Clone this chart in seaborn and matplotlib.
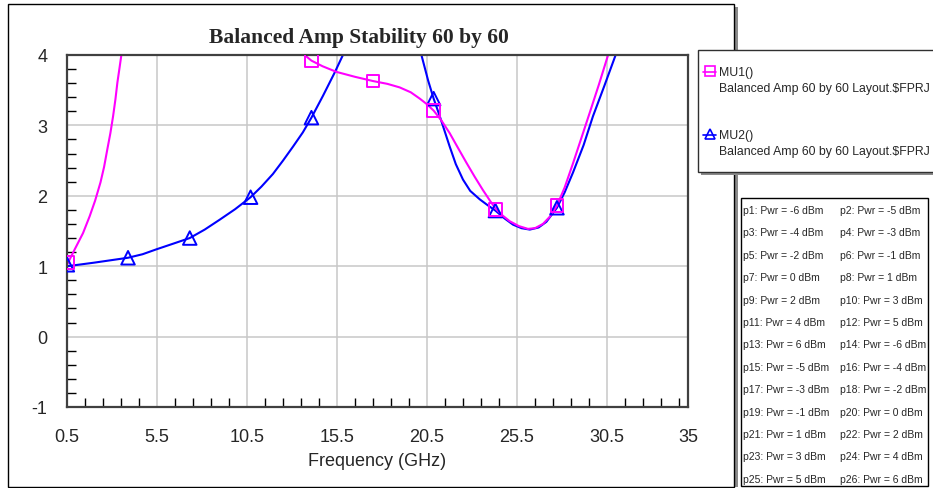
import numpy as np
import pandas as pd
import matplotlib
matplotlib.use("Agg")
import matplotlib.pyplot as plt
from matplotlib.patches import Rectangle
from matplotlib.lines import Line2D
from matplotlib.ticker import MultipleLocator, FixedLocator
import seaborn as sns

# ---------------- data ----------------
# MU1 curve: part before it leaves the top, and part after it returns
mu1_low_freq = [0.52, 0.93, 1.39, 1.76, 2.06, 2.36, 2.56, 2.74, 2.91, 3.06, 3.19, 3.30, 3.42, 3.52]
mu1_low_val = [1.03, 1.24, 1.47, 1.71, 1.93, 2.19, 2.41, 2.66, 2.89, 3.13, 3.37, 3.61, 3.82, 4.00]
mu1_high_freq = [13.70, 14.08, 14.70, 15.47, 16.50, 17.50, 18.30, 18.98, 19.60,
                 20.10, 20.50, 20.87, 21.30, 21.76, 22.20, 22.69, 23.15, 23.61,
                 24.00, 24.30, 24.70, 25.09, 25.60, 26.11, 26.50, 26.94, 27.35,
                 27.72, 28.15, 28.61, 29.05, 29.54, 30.05, 30.56]
mu1_high_val = [4.00, 3.92, 3.84, 3.76, 3.69, 3.63, 3.59, 3.54, 3.47,
                3.38, 3.30, 3.21, 3.07, 2.89, 2.69, 2.47, 2.27, 2.08,
                1.93, 1.82, 1.72, 1.64, 1.57, 1.53, 1.54, 1.60, 1.71,
                1.86, 2.12, 2.46, 2.80, 3.18, 3.58, 4.00]

# MU2 curve
mu2_low_freq = [0.52, 2.00, 3.89, 4.70, 5.47, 6.40, 7.32, 8.15, 8.98, 9.84, 10.70,
                11.30, 11.94, 12.50, 13.06, 13.60, 14.08, 14.72, 15.37, 15.83]
mu2_low_val = [1.00, 1.05, 1.12, 1.17, 1.24, 1.32, 1.40, 1.52, 1.66, 1.81, 1.98,
               2.13, 2.31, 2.50, 2.70, 2.90, 3.11, 3.42, 3.75, 4.00]
mu2_high_freq = [20.19, 20.56, 20.87, 21.21, 21.76, 22.10, 22.50, 22.90, 23.43,
                 23.85, 24.30, 24.80, 25.28, 25.75, 26.21, 26.70, 27.13, 27.72,
                 28.15, 28.61, 29.20, 29.72, 30.35, 30.98]
mu2_high_val = [4.00, 3.64, 3.38, 3.13, 2.70, 2.45, 2.23, 2.07, 1.95,
                1.87, 1.79, 1.68, 1.59, 1.54, 1.52, 1.55, 1.63, 1.83,
                2.05, 2.33, 2.72, 3.13, 3.56, 4.00]

# marker points
mu1_mark_freq = [0.56, 14.08, 17.50, 20.87, 24.30, 27.72]
mu1_mark_val = [1.05, 3.92, 3.63, 3.21, 1.81, 1.86]
mu2_mark_freq = [0.52, 3.89, 7.32, 10.70, 14.08, 20.87, 24.30, 27.72]
mu2_mark_val = [1.02, 1.12, 1.40, 1.98, 3.11, 3.38, 1.79, 1.83]

x_ticks = [0.5, 5.5, 10.5, 15.5, 20.5, 25.5, 30.5, 35]
x_tick_labels = ["0.5", "5.5", "10.5", "15.5", "20.5", "25.5", "30.5", "35"]
y_ticks = [-1, 0, 1, 2, 3, 4]
y_tick_labels = ["-1", "0", "1", "2", "3", "4"]

title = "Balanced Amp Stability 60 by 60"
x_label = "Frequency (GHz)"
legend_names = ["MU1()", "MU2()"]
legend_source = "Balanced Amp 60 by 60 Layout.\\$FPRJ"
pwr_values = [-6, -5, -4, -3, -2, -1, 0, 1, 2, 3, 4, 5, 6,
              -6, -5, -4, -3, -2, -1, 0, 1, 2, 3, 4, 5, 6]
pwr_labels = [f"p{i + 1}: Pwr = {p} dBm" for i, p in enumerate(pwr_values)]

# ---------------- style ----------------
sns.set_style("white")
plt.rcParams["font.family"] = ["Liberation Sans", "DejaVu Sans"]

MAG = "#FF00FF"
BLUE = "#0000FF"
W, H = 933, 489

fig = plt.figure(figsize=(W / 100, H / 100), dpi=100)


def fx(x):
    return x / W


def fy(y):
    return 1 - y / H


ax = fig.add_axes([fx(67), fy(408), fx(688) - fx(67), fy(56) - fy(408)])

df1 = pd.concat([
    pd.DataFrame({"freq": mu1_low_freq, "mu": mu1_low_val, "seg": 0}),
    pd.DataFrame({"freq": mu1_high_freq, "mu": mu1_high_val, "seg": 1}),
])
df2 = pd.concat([
    pd.DataFrame({"freq": mu2_low_freq, "mu": mu2_low_val, "seg": 0}),
    pd.DataFrame({"freq": mu2_high_freq, "mu": mu2_high_val, "seg": 1}),
])

sns.lineplot(data=df2, x="freq", y="mu", units="seg", estimator=None, sort=False,
             color=BLUE, lw=1.5, ax=ax, legend=False)
sns.lineplot(data=df1, x="freq", y="mu", units="seg", estimator=None, sort=False,
             color=MAG, lw=1.5, ax=ax, legend=False)
sns.scatterplot(x=mu2_mark_freq, y=mu2_mark_val, marker="^", s=95,
                facecolor="none", edgecolor=BLUE, linewidth=1.4, ax=ax, zorder=4)
sns.scatterplot(x=mu1_mark_freq, y=mu1_mark_val, marker="s", s=85,
                facecolor="none", edgecolor=MAG, linewidth=1.4, ax=ax, zorder=5)

ax.set_xlim(0.5, 35)
ax.set_ylim(-1, 4)
ax.xaxis.set_major_locator(FixedLocator(x_ticks))
ax.set_xticklabels(x_tick_labels)
ax.xaxis.set_minor_locator(FixedLocator(np.arange(1.5, 35, 1.0)))
ax.set_yticks(y_ticks)
ax.set_yticklabels(y_tick_labels)
ax.yaxis.set_minor_locator(MultipleLocator(0.2))
ax.grid(which="major", color="#c8c8c8", lw=1.1)
ax.tick_params(which="major", length=0, labelsize=13)
ax.tick_params(axis="x", which="major", pad=15)
ax.tick_params(axis="y", which="major", pad=14)
ax.tick_params(which="minor", direction="in", length=6.5, width=1.0, color="black",
               bottom=True, left=True, top=False, right=False)
for s in ax.spines.values():
    s.set_color("#404040")
    s.set_linewidth(1.6)
ax.set_xlabel(x_label, fontsize=13, labelpad=5)
ax.set_ylabel("")

# title
fig.text(fx(359), fy(38), title, ha="center", va="center", fontsize=15.5,
         fontweight="bold", family=["Liberation Serif", "DejaVu Serif"])

# outer frame with shadow
fig.patches.append(Rectangle((fx(735), fy(488)), fx(3), fy(8) - fy(488),
                             transform=fig.transFigure, facecolor="#8a8a8a",
                             edgecolor="none", zorder=0))
fig.patches.append(Rectangle((fx(8), fy(488)), fx(734) - fx(8), fy(5) - fy(488),
                             transform=fig.transFigure, facecolor="none",
                             edgecolor="black", lw=1.0, zorder=1))

# legend box with shadow
fig.patches.append(Rectangle((fx(701), fy(176)), fx(960) - fx(701), fy(54) - fy(176),
                             transform=fig.transFigure, facecolor="#8a8a8a",
                             edgecolor="none", zorder=2))
fig.patches.append(Rectangle((fx(698), fy(173)), fx(960) - fx(698), fy(51) - fy(173),
                             transform=fig.transFigure, facecolor="white",
                             edgecolor="#303030", lw=1.0, zorder=3))

leg_rows = [(73, 89, MAG, "s"), (136, 152, BLUE, "^")]
for (y1, y2, col, mk), name in zip(leg_rows, legend_names):
    fig.add_artist(Line2D([fx(703), fx(716)], [fy(y1), fy(y1)], color=col, lw=1.2,
                          transform=fig.transFigure, zorder=4))
    fig.add_artist(Line2D([fx(709.5)], [fy(y1 - 1)], marker=mk, markersize=7,
                          markerfacecolor="none", markeredgecolor=col, mew=1.2,
                          transform=fig.transFigure, zorder=4))
    fig.text(fx(719), fy(y1), name, ha="left", va="center", fontsize=8.8, zorder=5)
    fig.text(fx(719), fy(y2), legend_source, ha="left", va="center", fontsize=8.8,
             zorder=5)

# power table box
fig.patches.append(Rectangle((fx(741), fy(487)), fx(928) - fx(741), fy(199) - fy(487),
                             transform=fig.transFigure, facecolor="white",
                             edgecolor="black", lw=1.0, zorder=3))
for i, lab in enumerate(pwr_labels):
    row, col = divmod(i, 2)
    x = 743 if col == 0 else 840
    y = 211 + row * 22.4
    fig.text(fx(x), fy(y), lab, ha="left", va="center", fontsize=7.5, zorder=5)

fig.savefig("out.png", dpi=100)
